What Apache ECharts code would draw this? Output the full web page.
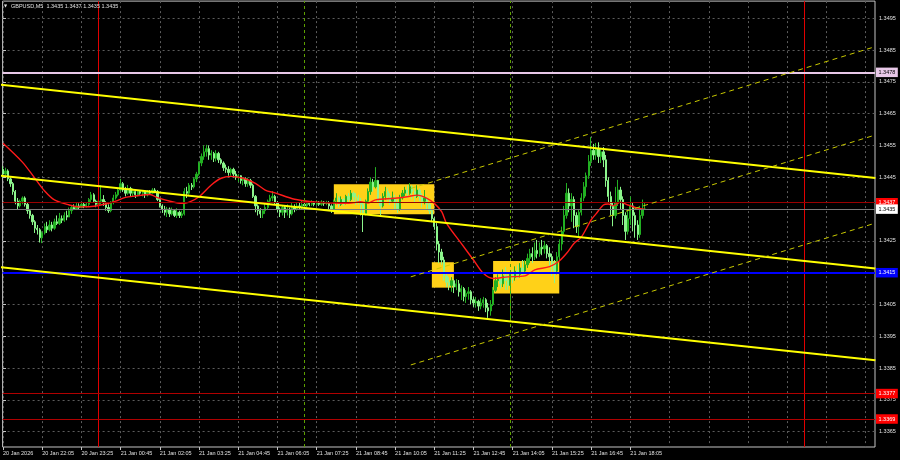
<!DOCTYPE html>
<html>
<head>
<meta charset="utf-8">
<title>GBPUSD M5</title>
<script src="https://cdn.jsdelivr.net/npm/echarts@6.0.0/dist/echarts.min.js"></script>
<style>
html,body{margin:0;padding:0;background:#000;overflow:hidden;}
#chart{width:900px;height:460px;}
</style>
</head>
<body>
<div id="chart"></div>
<script>
// ================= DATA =================
const symbolInfo = 'GBPUSD,M5';
const lastQuote = ['1.3435', '1.3437', '1.3435', '1.3435'];

// bar index of each x tick (5-minute bars from 20 Jan 20:45) and its label
const xTickBars = [0, 16, 32, 48, 64, 80, 96, 112, 128, 144, 160, 176, 192, 208, 224, 240, 256];
const xTickLabels = ['20 Jan 2026', '20 Jan 22:05', '20 Jan 23:25', '21 Jan 00:45', '21 Jan 02:05',
  '21 Jan 03:25', '21 Jan 04:45', '21 Jan 06:05', '21 Jan 07:25', '21 Jan 08:45', '21 Jan 10:05',
  '21 Jan 11:25', '21 Jan 12:45', '21 Jan 14:05', '21 Jan 15:25', '21 Jan 16:45', '21 Jan 18:05'];
const xGridBars = [0, 16, 32, 48, 64, 80, 96, 112, 128, 144, 160, 176, 192, 208, 224, 240, 256,
  272, 288, 304, 320, 336, 352];
const yTickValues = [1.3365, 1.3375, 1.3385, 1.3395, 1.3405, 1.3415, 1.3425, 1.3435, 1.3445,
  1.3455, 1.3465, 1.3475, 1.3485, 1.3495];

// candles: [open, close, low, high]
const candles = [
[1.34475,1.34460,1.34448,1.34485],[1.34460,1.34470,1.34455,1.34480],[1.34470,1.34445,1.34438,1.34475],[1.34445,1.34430,1.34420,1.34450],
[1.34430,1.34405,1.34395,1.34435],[1.34405,1.34375,1.34365,1.34410],[1.34375,1.34360,1.34348,1.34385],[1.34360,1.34375,1.34355,1.34380],
[1.34375,1.34385,1.34365,1.34390],[1.34385,1.34365,1.34358,1.34390],[1.34365,1.34345,1.34335,1.34370],[1.34345,1.34330,1.34320,1.34350],
[1.34330,1.34310,1.34300,1.34335],[1.34310,1.34290,1.34275,1.34315],[1.34290,1.34285,1.34270,1.34300],[1.34285,1.34260,1.34245,1.34290],
[1.34260,1.34275,1.34243,1.34280],[1.34275,1.34295,1.34270,1.34305],[1.34295,1.34285,1.34275,1.34310],[1.34285,1.34300,1.34280,1.34315],
[1.34300,1.34290,1.34280,1.34310],[1.34290,1.34310,1.34285,1.34320],[1.34310,1.34305,1.34300,1.34330],[1.34305,1.34320,1.34300,1.34338],
[1.34320,1.34315,1.34306,1.34330],[1.34315,1.34330,1.34310,1.34340],[1.34330,1.34325,1.34315,1.34345],[1.34325,1.34345,1.34325,1.34355],
[1.34345,1.34355,1.34335,1.34363],[1.34355,1.34350,1.34347,1.34365],[1.34350,1.34360,1.34347,1.34369],[1.34360,1.34355,1.34350,1.34368],
[1.34355,1.34365,1.34353,1.34372],[1.34365,1.34360,1.34353,1.34370],[1.34360,1.34365,1.34355,1.34370],[1.34365,1.34380,1.34360,1.34385],
[1.34380,1.34395,1.34370,1.34404],[1.34395,1.34375,1.34370,1.34400],[1.34375,1.34365,1.34356,1.34380],[1.34365,1.34375,1.34360,1.34385],
[1.34375,1.34380,1.34365,1.34425],[1.34380,1.34370,1.34360,1.34394],[1.34370,1.34355,1.34345,1.34375],[1.34355,1.34345,1.34338,1.34365],
[1.34345,1.34370,1.34340,1.34375],[1.34370,1.34385,1.34365,1.34395],[1.34385,1.34395,1.34380,1.34404],[1.34395,1.34410,1.34390,1.34415],
[1.34410,1.34430,1.34405,1.34445],[1.34430,1.34410,1.34404,1.34435],[1.34410,1.34400,1.34390,1.34420],[1.34400,1.34415,1.34395,1.34426],
[1.34415,1.34400,1.34388,1.34420],[1.34400,1.34405,1.34390,1.34415],[1.34405,1.34395,1.34385,1.34410],[1.34395,1.34405,1.34390,1.34410],
[1.34405,1.34400,1.34395,1.34410],[1.34400,1.34405,1.34390,1.34410],[1.34405,1.34395,1.34385,1.34410],[1.34395,1.34405,1.34390,1.34410],
[1.34405,1.34400,1.34395,1.34410],[1.34400,1.34410,1.34398,1.34416],[1.34410,1.34405,1.34400,1.34416],[1.34405,1.34380,1.34375,1.34410],
[1.34380,1.34360,1.34355,1.34385],[1.34360,1.34350,1.34338,1.34365],[1.34350,1.34340,1.34330,1.34360],[1.34340,1.34350,1.34325,1.34357],
[1.34350,1.34335,1.34325,1.34355],[1.34335,1.34345,1.34330,1.34355],[1.34345,1.34330,1.34325,1.34350],[1.34330,1.34340,1.34322,1.34353],
[1.34340,1.34330,1.34322,1.34345],[1.34330,1.34335,1.34322,1.34345],[1.34335,1.34405,1.34330,1.34416],[1.34405,1.34400,1.34385,1.34420],
[1.34400,1.34425,1.34395,1.34432],[1.34425,1.34420,1.34410,1.34432],[1.34420,1.34445,1.34415,1.34450],[1.34445,1.34460,1.34435,1.34467],
[1.34460,1.34495,1.34455,1.34500],[1.34495,1.34515,1.34485,1.34525],[1.34515,1.34530,1.34505,1.34550],[1.34530,1.34540,1.34515,1.34552],
[1.34540,1.34520,1.34505,1.34550],[1.34520,1.34525,1.34505,1.34535],[1.34525,1.34510,1.34498,1.34530],[1.34510,1.34525,1.34500,1.34535],
[1.34525,1.34505,1.34495,1.34530],[1.34505,1.34495,1.34490,1.34510],[1.34495,1.34480,1.34470,1.34500],[1.34480,1.34475,1.34464,1.34490],
[1.34475,1.34465,1.34455,1.34485],[1.34465,1.34475,1.34455,1.34480],[1.34475,1.34460,1.34450,1.34480],[1.34460,1.34450,1.34442,1.34470],
[1.34450,1.34455,1.34435,1.34460],[1.34455,1.34440,1.34430,1.34457],[1.34440,1.34445,1.34425,1.34450],[1.34445,1.34430,1.34420,1.34450],
[1.34430,1.34440,1.34420,1.34448],[1.34440,1.34425,1.34416,1.34445],[1.34425,1.34390,1.34385,1.34430],[1.34390,1.34360,1.34340,1.34394],
[1.34360,1.34345,1.34330,1.34365],[1.34345,1.34335,1.34322,1.34353],[1.34335,1.34345,1.34322,1.34350],[1.34345,1.34355,1.34335,1.34369],
[1.34355,1.34375,1.34350,1.34380],[1.34375,1.34385,1.34365,1.34395],[1.34385,1.34390,1.34375,1.34407],[1.34390,1.34370,1.34363,1.34395],
[1.34370,1.34350,1.34340,1.34375],[1.34350,1.34340,1.34325,1.34355],[1.34340,1.34355,1.34330,1.34360],[1.34355,1.34340,1.34322,1.34360],
[1.34340,1.34350,1.34330,1.34365],[1.34350,1.34335,1.34322,1.34355],[1.34335,1.34355,1.34330,1.34369],[1.34355,1.34350,1.34340,1.34365],
[1.34350,1.34360,1.34345,1.34369],[1.34360,1.34355,1.34347,1.34370],[1.34355,1.34365,1.34350,1.34378],[1.34365,1.34360,1.34350,1.34370],
[1.34360,1.34368,1.34355,1.34375],[1.34368,1.34365,1.34359,1.34375],[1.34365,1.34370,1.34360,1.34378],[1.34370,1.34365,1.34359,1.34375],
[1.34365,1.34370,1.34360,1.34378],[1.34370,1.34365,1.34360,1.34375],[1.34365,1.34372,1.34360,1.34378],[1.34372,1.34368,1.34360,1.34375],
[1.34368,1.34370,1.34362,1.34376],[1.34370,1.34360,1.34350,1.34375],[1.34360,1.34350,1.34338,1.34365],[1.34350,1.34375,1.34345,1.34380],
[1.34375,1.34385,1.34365,1.34400],[1.34385,1.34365,1.34355,1.34390],[1.34365,1.34380,1.34360,1.34390],[1.34380,1.34370,1.34360,1.34385],
[1.34370,1.34390,1.34365,1.34395],[1.34390,1.34380,1.34370,1.34400],[1.34380,1.34400,1.34375,1.34410],[1.34400,1.34390,1.34375,1.34405],
[1.34390,1.34385,1.34363,1.34400],[1.34385,1.34370,1.34365,1.34395],[1.34370,1.34365,1.34330,1.34385],[1.34365,1.34335,1.34278,1.34370],
[1.34335,1.34375,1.34330,1.34380],[1.34375,1.34405,1.34370,1.34415],[1.34405,1.34435,1.34395,1.34450],[1.34435,1.34420,1.34405,1.34445],
[1.34420,1.34440,1.34415,1.34482],[1.34440,1.34380,1.34370,1.34442],[1.34380,1.34360,1.34330,1.34390],[1.34360,1.34390,1.34355,1.34400],
[1.34390,1.34405,1.34380,1.34420],[1.34405,1.34390,1.34375,1.34415],[1.34390,1.34375,1.34363,1.34400],[1.34375,1.34385,1.34370,1.34405],
[1.34385,1.34370,1.34350,1.34395],[1.34370,1.34350,1.34338,1.34380],[1.34350,1.34385,1.34345,1.34395],[1.34385,1.34400,1.34380,1.34410],
[1.34400,1.34410,1.34390,1.34420],[1.34410,1.34400,1.34385,1.34425],[1.34400,1.34420,1.34395,1.34432],[1.34420,1.34405,1.34380,1.34425],
[1.34405,1.34390,1.34370,1.34415],[1.34390,1.34410,1.34385,1.34425],[1.34410,1.34390,1.34375,1.34415],[1.34390,1.34375,1.34355,1.34400],
[1.34375,1.34385,1.34365,1.34410],[1.34385,1.34365,1.34347,1.34390],[1.34365,1.34345,1.34335,1.34370],[1.34345,1.34320,1.34309,1.34350],
[1.34320,1.34295,1.34285,1.34325],[1.34295,1.34240,1.34220,1.34306],[1.34240,1.34215,1.34180,1.34250],[1.34215,1.34190,1.34175,1.34225],
[1.34190,1.34140,1.34125,1.34200],[1.34140,1.34120,1.34105,1.34150],[1.34120,1.34110,1.34095,1.34136],[1.34110,1.34125,1.34090,1.34136],
[1.34125,1.34105,1.34086,1.34130],[1.34105,1.34115,1.34095,1.34130],[1.34115,1.34090,1.34075,1.34127],[1.34090,1.34100,1.34064,1.34110],
[1.34100,1.34075,1.34060,1.34105],[1.34075,1.34085,1.34055,1.34095],[1.34085,1.34090,1.34065,1.34105],[1.34090,1.34065,1.34050,1.34095],
[1.34065,1.34055,1.34042,1.34075],[1.34055,1.34060,1.34040,1.34074],[1.34060,1.34045,1.34030,1.34065],[1.34045,1.34055,1.34035,1.34070],
[1.34055,1.34065,1.34040,1.34074],[1.34065,1.34040,1.34026,1.34070],[1.34040,1.34030,1.34008,1.34055],[1.34030,1.34050,1.34015,1.34064],
[1.34050,1.34095,1.34045,1.34105],[1.34095,1.34125,1.34090,1.34136],[1.34125,1.34130,1.34105,1.34145],[1.34130,1.34115,1.34100,1.34150],
[1.34115,1.34140,1.34105,1.34160],[1.34140,1.34125,1.34096,1.34168],[1.34125,1.34110,1.34096,1.34145],[1.34110,1.34145,1.34001,1.34155],
[1.34145,1.34135,1.34117,1.34160],[1.34135,1.34155,1.34125,1.34170],[1.34155,1.34145,1.34130,1.34175],[1.34145,1.34165,1.34135,1.34180],
[1.34165,1.34155,1.34140,1.34190],[1.34155,1.34175,1.34150,1.34190],[1.34175,1.34195,1.34165,1.34210],[1.34195,1.34210,1.34180,1.34225],
[1.34210,1.34200,1.34180,1.34230],[1.34200,1.34220,1.34190,1.34245],[1.34220,1.34210,1.34195,1.34253],[1.34210,1.34230,1.34200,1.34245],
[1.34230,1.34225,1.34205,1.34253],[1.34225,1.34235,1.34210,1.34250],[1.34235,1.34210,1.34195,1.34240],[1.34210,1.34200,1.34170,1.34230],
[1.34200,1.34180,1.34140,1.34210],[1.34180,1.34155,1.34117,1.34190],[1.34155,1.34200,1.34145,1.34215],[1.34200,1.34240,1.34190,1.34255],
[1.34240,1.34280,1.34220,1.34295],[1.34280,1.34330,1.34270,1.34360],[1.34330,1.34400,1.34320,1.34432],[1.34400,1.34360,1.34340,1.34415],
[1.34360,1.34380,1.34310,1.34400],[1.34380,1.34330,1.34290,1.34390],[1.34330,1.34295,1.34275,1.34340],[1.34295,1.34340,1.34262,1.34350],
[1.34340,1.34385,1.34330,1.34400],[1.34385,1.34420,1.34375,1.34435],[1.34420,1.34455,1.34390,1.34465],[1.34455,1.34500,1.34445,1.34520],
[1.34500,1.34535,1.34486,1.34577],[1.34535,1.34520,1.34505,1.34555],[1.34520,1.34540,1.34505,1.34558],[1.34540,1.34515,1.34495,1.34560],
[1.34515,1.34530,1.34495,1.34540],[1.34530,1.34505,1.34482,1.34545],[1.34505,1.34440,1.34420,1.34520],[1.34440,1.34390,1.34370,1.34450],
[1.34390,1.34360,1.34330,1.34405],[1.34360,1.34330,1.34296,1.34370],[1.34330,1.34370,1.34320,1.34420],[1.34370,1.34410,1.34360,1.34442],
[1.34410,1.34380,1.34350,1.34420],[1.34380,1.34330,1.34300,1.34390],[1.34330,1.34280,1.34253,1.34340],[1.34280,1.34320,1.34270,1.34350],
[1.34320,1.34360,1.34300,1.34390],[1.34360,1.34330,1.34280,1.34370],[1.34330,1.34300,1.34260,1.34340],[1.34300,1.34270,1.34253,1.34315],
[1.34270,1.34330,1.34260,1.34360],[1.34330,1.34350,1.34320,1.34380],[1.34350,1.34350,1.34350,1.34370]
];

// moving average (red): [bar, price]
const maPoints = [
[0,1.34557],[8,1.34497],[13,1.34447],[17,1.34407],[21,1.34379],[27,1.34363],[31,1.34357],[36,1.34358],
[43,1.34368],[46,1.34375],[50,1.34387],[54,1.34391],[60,1.34396],[63,1.34386],[69,1.34373],[73,1.34368],
[76,1.34372],[80,1.34389],[85,1.34426],[89,1.34447],[93,1.34453],[98,1.34447],[103,1.34431],[107,1.34410],
[111,1.34401],[119,1.34381],[126,1.34373],[132,1.34370],[141,1.34368],[146,1.34373],[149,1.34369],[152,1.34379],
[160,1.34384],[165,1.34389],[169,1.34394],[173,1.34384],[176,1.34368],[179,1.34342],[181,1.34305],[187,1.34242],
[192,1.34190],[196,1.34148],[200,1.34132],[206,1.34137],[213,1.34140],[217,1.34159],[223,1.34169],[227,1.34187],
[230,1.34211],[233,1.34242],[236,1.34262],[240,1.34316],[242,1.34335],[245,1.34363],[247,1.34366],[249,1.34360],
[252,1.34372],[255,1.34363],[259,1.34353],[262,1.34349]
];

// descending channel (solid yellow): [bar, price] end points
const channelUpper = [[-1, 1.34741], [356, 1.34448]];
const channelMiddle = [[-1, 1.34455], [356, 1.34163]];
const channelLower = [[-1, 1.34167], [356, 1.33875]];
// ascending channel (dashed yellow)
const risingTop = [[166.4, 1.34415], [356, 1.34861]];
const risingMiddle = [[166.4, 1.34137], [356, 1.34583]];
const risingBottom = [[166.4, 1.33860], [356, 1.34306]];

// horizontal levels
const levelResistance = 1.3478;
const levelAsk = 1.3437;
const levelBid = 1.3435;
const levelSupport = 1.3415;
const levelTargets = [1.3377, 1.3369];

// vertical markers (bar index)
const daySeparators = [39, 327];
const sessionMarks = [123, 207];

// zones: [startBar, endBar, lowPrice, highPrice]
const zones = [[135, 176, 1.34334, 1.34428], [175, 184, 1.34103, 1.34183], [200, 227, 1.34085, 1.34187]];

// ================= CHART =================
const FONT = 'Liberation Sans, Arial, sans-serif';
const FS = 5.5;
const chart = echarts.init(document.getElementById('chart'), null, { renderer: 'canvas' });

const candleData = candles.map((c, i) => [i, c[0], c[1], c[2], c[3]]);

function lineSeries(name, data, color, width, type, z) {
  return { name, type: 'line', data, symbol: 'none', silent: true, z,
    lineStyle: { color, width, type }, xAxisIndex: 0, yAxisIndex: 0, animation: false };
}

function hLevel(v, lineColor, width, boxColor, textColor) {
  return {
    yAxis: v,
    lineStyle: { color: lineColor, width, type: 'solid' },
    label: { show: true, position: 'end', distance: 1, formatter: v.toFixed(4),
      backgroundColor: boxColor, color: textColor, fontSize: FS, fontFamily: FONT,
      padding: [1.5, 2.5, 1, 2.5], lineHeight: 7 }
  };
}

const option = {
  backgroundColor: '#000000',
  animation: false,
  grid: { left: 1, top: 1.1, width: 874, height: 445.9, show: true,
    borderColor: '#C4C4C4', borderWidth: 1, backgroundColor: '#000000' },
  xAxis: [
    { type: 'value', min: -0.16, max: 355.84, position: 'bottom',
      axisLine: { show: false },
      axisTick: { show: true, length: 3, customValues: xTickBars, lineStyle: { color: '#C4C4C4' } },
      axisLabel: { show: true, customValues: xTickBars, align: 'left', margin: 3,
        color: '#E0E0E0', fontSize: FS, fontFamily: FONT,
        formatter: v => { const i = xTickBars.indexOf(Math.round(v)); return i >= 0 ? xTickLabels[i] : ''; } },
      splitLine: { show: false } },
    { type: 'value', min: -0.16, max: 355.84, position: 'top',
      axisLine: { show: false },
      axisTick: { show: false, customValues: xGridBars },
      axisLabel: { show: false },
      splitLine: { show: true, lineStyle: { color: '#5C5C5C', width: 1, type: [2, 3] } } }
  ],
  yAxis: [
    { type: 'value', min: 1.33602, max: 1.35004, position: 'right', scale: true,
      axisLine: { show: false },
      axisTick: { show: true, length: 3, customValues: yTickValues, lineStyle: { color: '#C4C4C4' } },
      axisLabel: { show: true, customValues: yTickValues, margin: 4, color: '#E0E0E0',
        fontSize: FS, fontFamily: FONT, formatter: v => v.toFixed(4) },
      splitLine: { show: true, lineStyle: { color: '#5C5C5C', width: 1, type: [2, 3] } } }
  ],
  series: [
    { name: 'zones', type: 'line', data: [], z: 1, silent: true,
      markArea: { silent: true, precision: 6, itemStyle: { color: '#FFD118', opacity: 1 },
        data: zones.map(zn => [{ xAxis: zn[0], yAxis: zn[3] }, { xAxis: zn[1], yAxis: zn[2] }]) } },
    { name: 'markers', type: 'line', data: [], z: 2, silent: true,
      markLine: { silent: true, precision: 6, symbol: ['none', 'none'], label: { show: false },
        data: daySeparators.map(b => ({ xAxis: b, lineStyle: { color: '#E00000', width: 1, type: 'solid' } }))
          .concat(sessionMarks.map(b => ({ xAxis: b, lineStyle: { color: '#5DA000', width: 1, type: [3, 3] } }))) } },
    { name: symbolInfo, type: 'candlestick', data: candleData, z: 3, silent: true,
      encode: { x: 0, y: [1, 2, 3, 4] }, barWidth: 1.8,
      itemStyle: { color: '#22B022', color0: '#8CF58C', borderColor: '#22B022', borderColor0: '#8CF58C', borderWidth: 1 } },
    Object.assign(lineSeries('MA', maPoints, '#FF1A1A', 1.4, 'solid', 4), { smooth: 0.3 }),
    lineSeries('upper', channelUpper, '#FFFF00', 2, 'solid', 5),
    lineSeries('middle', channelMiddle, '#FFFF00', 2, 'solid', 5),
    lineSeries('lower', channelLower, '#FFFF00', 2, 'solid', 5),
    lineSeries('risingTop', risingTop, '#C8C800', 1, [5, 4], 5),
    lineSeries('risingMiddle', risingMiddle, '#C8C800', 1, [5, 4], 5),
    lineSeries('risingBottom', risingBottom, '#C8C800', 1, [5, 4], 5),
    { name: 'levels', type: 'line', data: [], z: 6, silent: true,
      markLine: { silent: true, precision: 6, symbol: ['none', 'none'],
        data: [
          hLevel(levelResistance, '#E8C8E8', 2, '#E8C8E8', '#000000'),
          hLevel(levelAsk, '#9A0000', 1, '#FF0000', '#FFFFFF'),
          hLevel(levelBid, '#7A7A7A', 1, '#FFFFFF', '#000000'),
          hLevel(levelSupport, '#0000FF', 2, '#0000FF', '#FFFFFF'),
          hLevel(levelTargets[0], '#B00000', 1, '#FF0000', '#FFFFFF'),
          hLevel(levelTargets[1], '#B00000', 1, '#FF0000', '#FFFFFF')
        ] } }
  ],
  graphic: [
    { type: 'text', left: 4, top: 3.5, style: { text: '▼', fill: '#E0E0E0', font: '4px DejaVu Sans' }, z: 10 },
    { type: 'text', left: 11, top: 3, style: { text: symbolInfo + '  ' + lastQuote.join(' '),
      fill: '#E0E0E0', font: FS + 'px ' + FONT }, z: 10 }
  ]
};
chart.setOption(option);
</script>
</body>
</html>
